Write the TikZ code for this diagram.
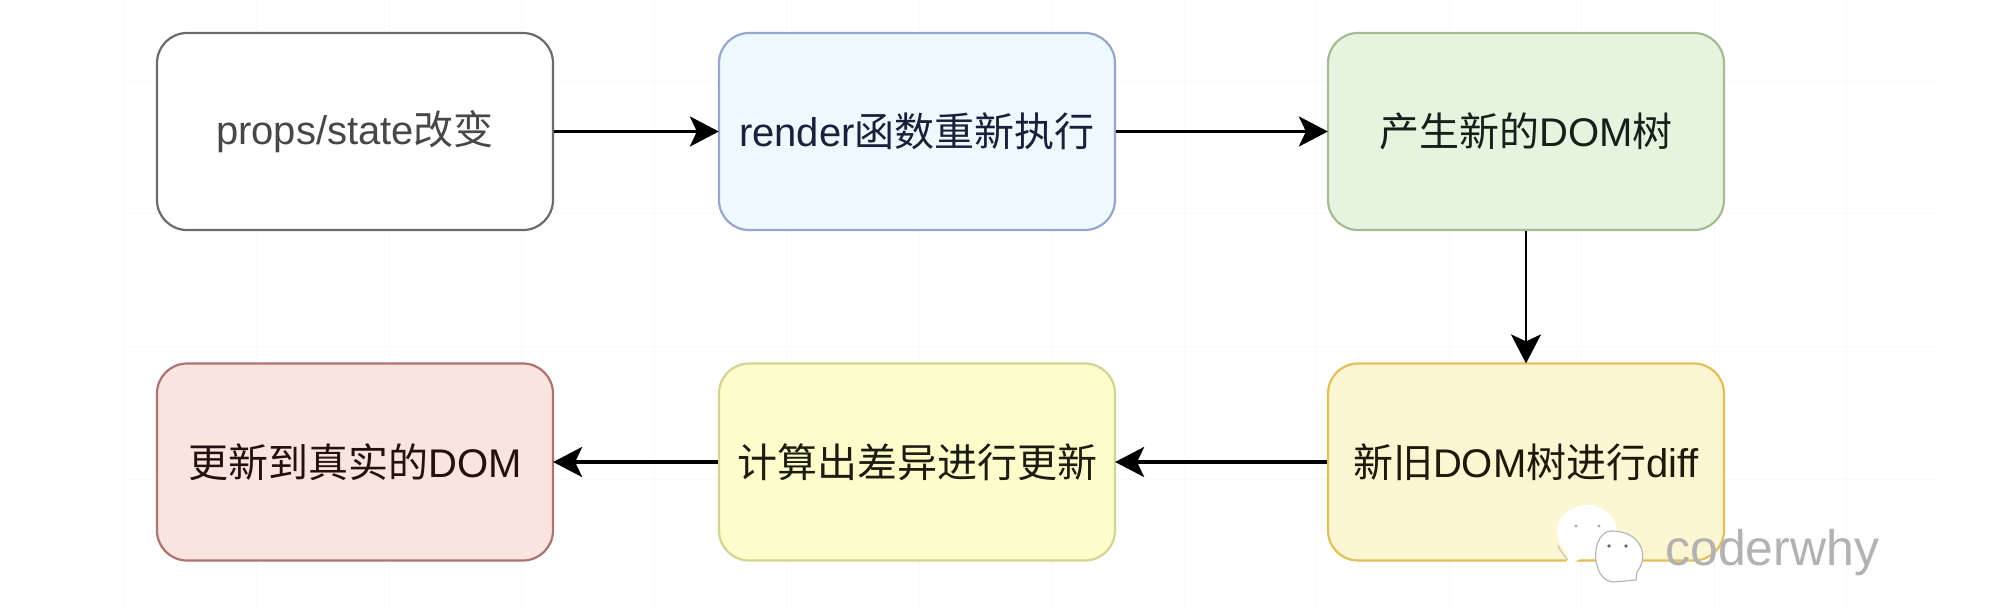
\documentclass[tikz,border=0pt]{standalone}
\usepackage{fontspec}
\setmainfont{Liberation Sans}
\newfontfamily\cjk{Noto Sans CJK SC}
\newcommand{\zh}[1]{{\cjk #1}}
\usetikzlibrary{arrows.meta}
\definecolor{gridc}{HTML}{FAFAFA}
\definecolor{strokeb}{HTML}{98A6CE}
\definecolor{fillb}{HTML}{EEF8FF}
\definecolor{textb}{HTML}{1A1F3A}
\definecolor{strokec}{HTML}{A5BB93}
\definecolor{fillc}{HTML}{E6F4DF}
\definecolor{textc}{HTML}{14201A}
\definecolor{stroked}{HTML}{E3BF5C}
\definecolor{filld}{HTML}{FDF6D3}
\definecolor{textd}{HTML}{201808}
\definecolor{strokee}{HTML}{D4D494}
\definecolor{fille}{HTML}{FDFDCB}
\definecolor{texte}{HTML}{1C1C10}
\definecolor{strokef}{HTML}{AD7272}
\definecolor{fillf}{HTML}{FAE4DF}
\definecolor{textf}{HTML}{241010}
\tikzset{
  flowbox/.style={draw, rounded corners=30pt, line width=2.2pt, minimum width=396pt, minimum height=197pt, inner sep=0pt, outer sep=1.1pt, font=\fontsize{40}{44}\selectfont, anchor=center},
  flowarrow/.style={draw=black, line width=3.2pt, -{Stealth[length=29pt,width=30pt,inset=7pt]}, shorten >=-1pt},
  gridline/.style={draw=gridc, line width=1pt},
  bubble/.style={draw=black!30, fill=white, line width=1.1pt}
}
\begin{document}
\begin{tikzpicture}[x=1pt,y=-1pt]
\useasboundingbox (0,0) rectangle (2002,608);
\fill[white] (0,0) rectangle (2002,608);
\foreach \gx in {124,256,389,521,654,786,919,1051,1184,1316,1449,1581,1714,1846} \draw[gridline] (\gx,0) -- (\gx,608);
\foreach \gy in {81,213,346,479} \draw[gridline] (124,\gy) -- (1940,\gy);

\node[flowbox, draw=black!58, fill=white, text=black!72] (a) at (355,131.5) {props/state\zh{改变}};
\node[flowbox, draw=strokeb, fill=fillb, text=textb] (b) at (917,131.5) {render\zh{函数重新执行}};
\node[flowbox, draw=strokec, fill=fillc, text=textc] (c) at (1526,131.5) {\zh{产生新的}DOM\zh{树}};
\node[flowbox, draw=stroked, fill=filld, text=textd] (d) at (1526,462) {\zh{新旧}DOM\zh{树进行}diff};
\node[flowbox, draw=strokee, fill=fille, text=texte] (e) at (917,462) {\zh{计算出差异进行更新}};
\node[flowbox, draw=strokef, fill=fillf, text=textf] (f) at (355,462) {\zh{更新到真实的}DOM};

\draw[flowarrow] (a) -- (b);
\draw[flowarrow] (b) -- (c);
\draw[flowarrow, line width=2.6pt] (c) -- (d);
\draw[flowarrow] (d) -- (e);
\draw[flowarrow] (e) -- (f);

% watermark
\fill[white] (1587,532) ellipse [x radius=30pt, y radius=27pt];
\fill[white] (1568,552) -- (1566,566) -- (1582,558) -- cycle;
\draw[black!25, line width=1.1pt] (1558,545) .. controls (1561,553) and (1565,556) .. (1568,560);
\fill[black!35] (1576,526) circle (1.6pt) (1599,526) circle (1.6pt);
\draw[bubble] (1613,582) -- (1636,580) -- (1637,572) .. controls (1650,555) and (1640,531) .. (1612,531) .. controls (1590,531) and (1590,580) .. (1613,582);
\fill[black!60] (1626,546) circle (1.8pt) (1609,546) circle (1.8pt);
\node[text=black!30, font=\fontsize{50}{54}\selectfont, inner sep=0pt, anchor=base west] (w) at (1665,565) {coderwhy};
\end{tikzpicture}
\end{document}
